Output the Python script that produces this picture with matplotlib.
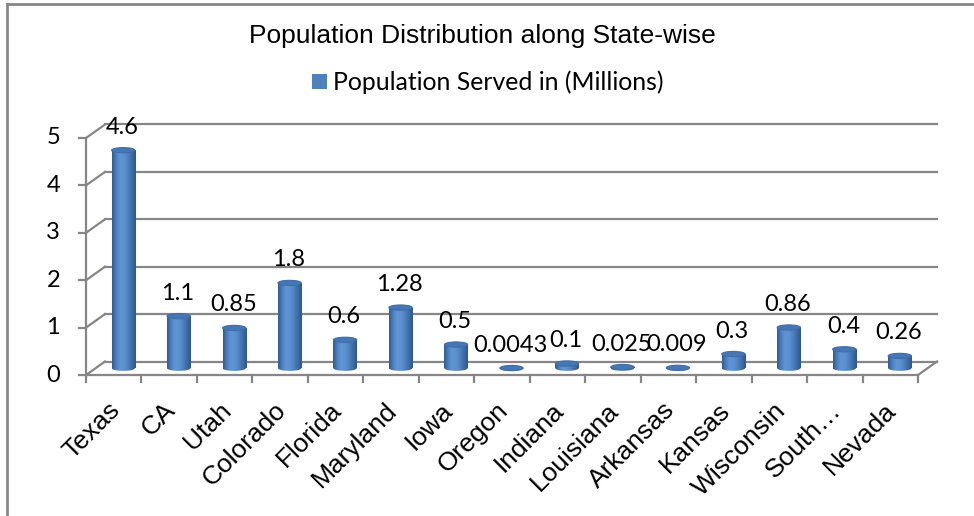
import numpy as np
import matplotlib
matplotlib.use("Agg")
import matplotlib.pyplot as plt
from matplotlib import transforms
from matplotlib.patches import Ellipse, Rectangle
from matplotlib.lines import Line2D
from matplotlib.colors import LinearSegmentedColormap

# ---- data -------------------------------------------------------------
states = ["Texas", "CA", "Utah", "Colorado", "Florida", "Maryland", "Iowa",
          "Oregon", "Indiana", "Louisiana", "Arkansas", "Kansas", "Wisconsin",
          "South…", "Nevada"]
population_millions = [4.6, 1.1, 0.85, 1.8, 0.6, 1.28, 0.5, 0.0043, 0.1,
                       0.025, 0.009, 0.3, 0.86, 0.4, 0.26]
y_ticks = [0, 1, 2, 3, 4, 5]

title = "Population Distribution along State-wise"
series_name = "Population Served in (Millions)"

# ---- style ------------------------------------------------------------
W, H, DPI = 974, 516, 100
GRID = "#868686"
LABEL_FONT = ["Lato", "DejaVu Sans"]
AXIS_FONT = ["Liberation Sans", "DejaVu Sans"]
DEPTH = (19, 13.5)          # pixel offset of the back wall
BAR_W = 0.42                # cylinder diameter in category units
CAP_H = 0.11                # cylinder cap height in value units

fig = plt.figure(figsize=(W / DPI, H / DPI), dpi=DPI)
ax = fig.add_axes([86 / W, 141 / H, 832 / W, 237 / H])
ax.set_xlim(-0.5, len(states) - 0.5)
ax.set_ylim(0, 5)
ax.axis("off")

back = transforms.offset_copy(ax.transData, fig, x=DEPTH[0], y=DEPTH[1], units="dots")
mid = transforms.offset_copy(ax.transData, fig, x=DEPTH[0] / 2, y=DEPTH[1] / 2, units="dots")

x0, x1 = -0.5, len(states) - 0.5
lw = 1.6

# back wall gridlines and side-wall diagonals
for t in y_ticks:
    ax.add_line(Line2D([x0, x1], [t, t], transform=back, color=GRID, lw=lw, clip_on=False))
    p_front = ax.transData.transform((x0, t))
    p_back = back.transform((x0, t))
    ax.add_line(Line2D([p_front[0], p_back[0]], [p_front[1], p_back[1]],
                       transform=None, color=GRID, lw=lw, clip_on=False))

# floor: front edge and right diagonal
ax.add_line(Line2D([x0, x1], [0, 0], color=GRID, lw=lw, clip_on=False))
pf = ax.transData.transform((x1, 0))
pb = back.transform((x1, 0))
ax.add_line(Line2D([pf[0], pb[0]], [pf[1], pb[1]], transform=None,
                   color=GRID, lw=lw, clip_on=False))

# front value axis with tick marks
ax.add_line(Line2D([x0, x0], [0, 5], color=GRID, lw=lw, clip_on=False))
for t in y_ticks:
    a = ax.transData.transform((x0, t))
    ax.add_line(Line2D([a[0] - 7, a[0]], [a[1], a[1]], transform=None,
                       color=GRID, lw=lw, clip_on=False))
    ax.text(x0, t, str(t), transform=transforms.offset_copy(ax.transData, fig, x=-26, y=0, units="dots"),
            ha="right", va="center", fontsize=17, family=LABEL_FONT)

# category tick marks below the floor
for b in np.arange(x0, x1 + 0.01, 1.0):
    a = ax.transData.transform((b, 0))
    ax.add_line(Line2D([a[0], a[0]], [a[1], a[1] - 7], transform=None,
                       color=GRID, lw=lw, clip_on=False))

# category labels
lab_tr = transforms.offset_copy(ax.transData, fig, x=-6, y=-23, units="dots")
for i, s in enumerate(states):
    ax.text(i, 0, s, transform=lab_tr, rotation=45, rotation_mode="anchor",
            ha="right", va="top", fontsize=19, family=AXIS_FONT)

# cylinders
body_cmap = LinearSegmentedColormap.from_list(
    "cyl", ["#305C93", "#4C7FBF", "#6095D5", "#5C91D0", "#4E82C0", "#3E6DA8", "#2E578B"])
grad = np.linspace(0, 1, 64).reshape(1, -1)
for i, v in enumerate(population_millions):
    left, right = i - BAR_W / 2, i + BAR_W / 2
    # bottom cap
    bot = Ellipse((i, 0), BAR_W, CAP_H, transform=mid, facecolor="none", edgecolor="none")
    ax.add_patch(bot)
    im = ax.imshow(grad, cmap=body_cmap, extent=(left, right, -CAP_H / 2, v),
                   transform=mid, aspect="auto", zorder=3, interpolation="bilinear")
    im.set_clip_path(bot)
    # body
    body = Rectangle((left, 0), BAR_W, v, transform=mid, facecolor="none", edgecolor="none")
    ax.add_patch(body)
    im2 = ax.imshow(grad, cmap=body_cmap, extent=(left, right, -CAP_H / 2, v),
                    transform=mid, aspect="auto", zorder=3, interpolation="bilinear")
    im2.set_clip_path(body)
    # top cap
    ax.add_patch(Ellipse((i, v), BAR_W, CAP_H, transform=mid, facecolor="#4677B4",
                         edgecolor="#3F6DA8", lw=0.8, zorder=4))
    # value label
    ax.text(i, v, f"{v:g}",
            transform=transforms.offset_copy(ax.transData, fig, x=DEPTH[0] / 2 - 1,
                                             y=DEPTH[1] / 2 + 23, units="dots"),
            ha="center", va="center", fontsize=17, family=LABEL_FONT, zorder=5)

ax.set_xlim(-0.5, len(states) - 0.5)
ax.set_ylim(0, 5)

# title and legend
fig.text(482 / W, 1 - 36 / H, title, ha="center", va="center", fontsize=19, family=AXIS_FONT)
fig.patches.append(Rectangle((312 / W, 1 - 89 / H), 15 / W, 15 / H, transform=fig.transFigure,
                             facecolor="#4F81BD", edgecolor="none"))
fig.text(333 / W, 1 - 82 / H, series_name, ha="left", va="center", fontsize=17.8, family=LABEL_FONT)

# chart frame (top and left edges)
fig.add_artist(Line2D([7 / W, 1], [1 - 4 / H, 1 - 4 / H], transform=fig.transFigure,
                      color="#878787", lw=2))
fig.add_artist(Line2D([7 / W, 7 / W], [0, 1 - 4 / H], transform=fig.transFigure,
                      color="#878787", lw=2))

fig.savefig("out.png", dpi=DPI)
